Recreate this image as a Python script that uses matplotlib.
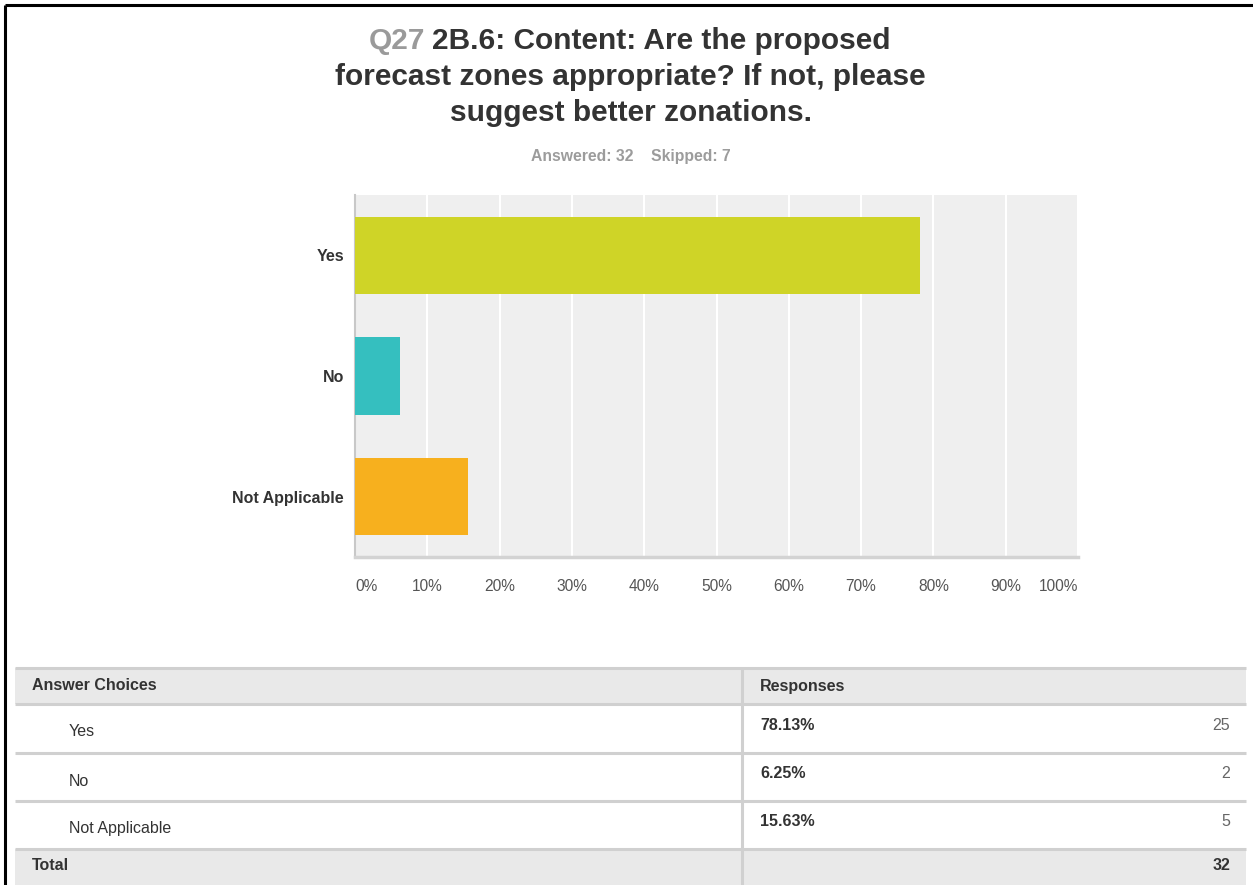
import matplotlib.pyplot as plt
from matplotlib.patches import Rectangle
import numpy as np

plt.rcParams['font.family'] = ['Liberation Sans', 'DejaVu Sans']

# survey data
choices = ["Yes", "No", "Not Applicable"]
percents = [78.13, 6.25, 15.63]
counts = [25, 2, 5]
total = 32
answered = 32
skipped = 7
bar_colors = ["#cfd427", "#35bfbf", "#f7b01e"]
xticks = [0, 10, 20, 30, 40, 50, 60, 70, 80, 90, 100]

W, H = 1253, 885
fig = plt.figure(figsize=(W / 100, H / 100), dpi=100)

def fy(py):
    return 1 - py / H

# background canvas in pixel coords (table + frame)
bg = fig.add_axes([0, 0, 1, 1], zorder=-1)
bg.set_xlim(0, W)
bg.set_ylim(H, 0)
bg.axis("off")

# frame lines top/left
bg.plot([5, W], [5, 5], color="black", lw=2.2, solid_capstyle="butt")
bg.plot([5, 5], [5, H], color="black", lw=2.2, solid_capstyle="butt")

# --- title ---
dark = "#333333"
title_lines = ["Q27 2B.6: Content: Are the proposed",
               "forecast zones appropriate? If not, please",
               "suggest better zonations."]
tsize = 21.5
cx = 630.5 / W
base_y = [49, 85, 121]

probe = fig.text(cx, fy(base_y[0]), title_lines[0], ha="center", va="baseline",
                 fontsize=tsize, fontweight="bold", alpha=0)
fig.canvas.draw()
r = fig.canvas.get_renderer()
x0 = probe.get_window_extent(r).x0
q = fig.text(x0 / W, fy(base_y[0]), "Q27", ha="left", va="baseline",
             fontsize=tsize, fontweight="bold", color="#9a9a9a")
fig.canvas.draw()
qx1 = q.get_window_extent(r).x1
fig.text((qx1 + 7) / W, fy(base_y[0]), title_lines[0][4:], ha="left", va="baseline",
         fontsize=tsize, fontweight="bold", color=dark)
for line, by in zip(title_lines[1:], base_y[1:]):
    fig.text(cx, fy(by), line, ha="center", va="baseline",
             fontsize=tsize, fontweight="bold", color=dark)

fig.text(cx, fy(156), f"Answered: {answered}    Skipped: {skipped}", ha="center",
         va="center", fontsize=11.3, fontweight="bold", color="#9c9c9c")

# --- bar chart ---
left, right, top, bottom = 355, 1078, 195, 557
ax = fig.add_axes([left / W, fy(bottom), (right - left) / W, (bottom - top) / H])
ax.set_facecolor("#efefef")
y = np.arange(len(choices))
ax.barh(y, percents, height=0.64, color=bar_colors, zorder=3)
ax.set_xlim(0, 100)
ax.set_ylim(len(choices) - 0.5, -0.5)
ax.set_xticks(xticks)
ax.set_xticklabels([f"{t}%" for t in xticks], fontsize=11.2, color="#555555")
ax.set_yticks(y)
ax.set_yticklabels(choices, fontsize=11.5, fontweight="bold", color=dark)
ax.tick_params(axis="x", length=0, pad=15.5)
ax.tick_params(axis="y", length=0, pad=8)
labs = ax.get_xticklabels()
labs[0].set_ha("left")
labs[-1].set_ha("right")
ax.grid(axis="x", color="white", lw=1.5, zorder=1)
for s in ["top", "right"]:
    ax.spines[s].set_visible(False)
ax.spines["left"].set_color("#c8c8c8")
ax.spines["left"].set_linewidth(1.5)
ax.spines["bottom"].set_color("#d3d3d3")
ax.spines["bottom"].set_linewidth(2.5)

# --- table ---
tl, tr, div = 15, 1246, 742
rows = [668, 704, 753, 801, 849, H]
grey_bg = "#e9e9e9"
line_c = "#d0d0d0"
bg.add_patch(Rectangle((tl, rows[0]), tr - tl, rows[1] - rows[0], color=grey_bg, lw=0))
bg.add_patch(Rectangle((tl, rows[4]), tr - tl, rows[5] - rows[4], color=grey_bg, lw=0))
for ry in rows[:-1]:
    bg.plot([tl, tr], [ry, ry], color=line_c, lw=2.2, solid_capstyle="butt")
bg.plot([div, div], [rows[0], H], color=line_c, lw=2.2, solid_capstyle="butt")

fs = 11.5
bg.text(32, 686, "Answer Choices", fontsize=fs, fontweight="bold", color=dark, va="center")
bg.text(760, 686, "Responses", fontsize=fs, fontweight="bold", color=dark, va="center")
for i, (c, p, n) in enumerate(zip(choices, percents, counts)):
    ytop = rows[i + 1]
    bg.text(69, ytop + 28, c, fontsize=fs, color=dark, va="center")
    bg.text(760, ytop + 21, f"{p:.2f}%", fontsize=fs, fontweight="bold", color=dark, va="center")
    bg.text(1230, ytop + 21, str(n), fontsize=fs, color="#666666", va="center", ha="right")
bg.text(32, 866, "Total", fontsize=fs, fontweight="bold", color=dark, va="center")
bg.text(1230, 866, str(total), fontsize=fs, fontweight="bold", color=dark, va="center", ha="right")

fig.savefig("out.png", dpi=100, facecolor="white")
